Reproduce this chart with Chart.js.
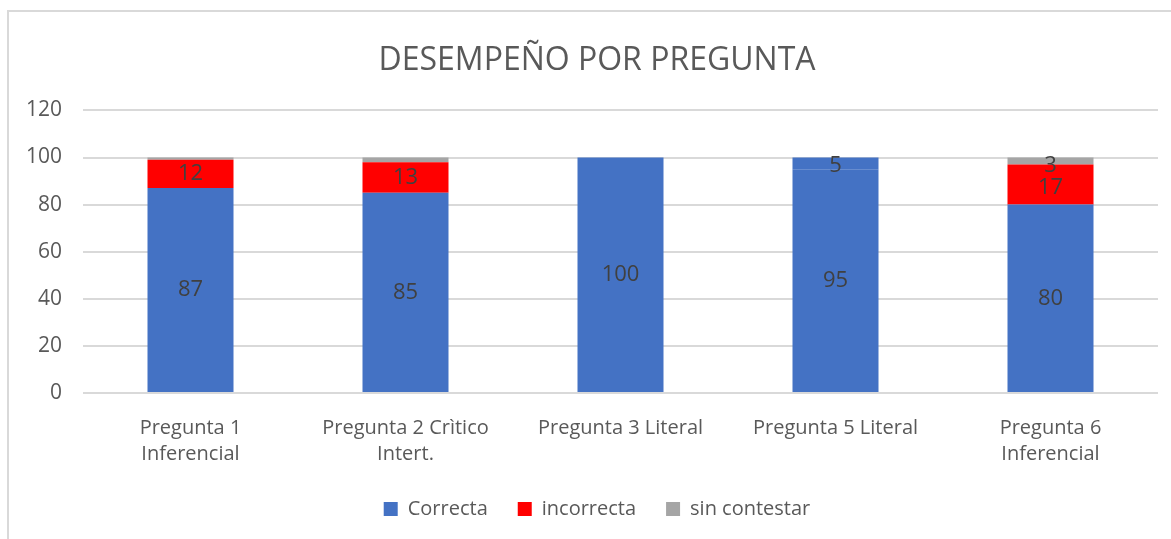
<!DOCTYPE html>
<html>
<head>
  <title>Desempeño por pregunta</title>
  <script src="https://cdn.jsdelivr.net/npm/chart.js@4.4.1/dist/chart.umd.min.js"></script>
  <style>
    body {
      margin: 0;
      background-color: #ffffff;
      font-family: "Open Sans", sans-serif;
    }
    .frame {
      position: absolute;
      left: 7px;
      top: 10px;
      width: 1200px;
      height: 600px;
      border: 2px solid #d9d9d9;
    }
    .wrap {
      position: absolute;
      left: 0;
      top: 0;
      width: 1171px;
      height: 539px;
    }
  </style>
</head>
<body>
  <div class="frame"></div>
  <div class="wrap">
    <canvas id="chart" width="1171" height="539"></canvas>
  </div>

  <script>
    const categories = [
      ['Pregunta 1', 'Inferencial'],
      ['Pregunta 2 Crìtico', 'Intert.'],
      'Pregunta 3 Literal',
      'Pregunta 5 Literal',
      ['Pregunta 6', 'Inferencial']
    ];
    const correcta = [87, 85, 100, 95, 80];
    const incorrecta = [12, 13, 0, 5, 17];
    const sinContestar = [1, 2, 0, 0, 3];
    const yTicks = [0, 20, 40, 60, 80, 100, 120];

    const BLUE = '#4472c4';
    const RED = '#ff0000';
    const GRAY = '#a5a5a5';
    const TEXT = '#595959';

    // labels drawn at the middle of each segment, pushed down if they would overlap
    const segmentLabels = {
      id: 'segmentLabels',
      afterLayout(chart) {
        // title and legend sit centred on the whole frame, which runs past the right edge
        const shift = 18;
        chart.titleBlock.left += shift;
        chart.titleBlock.right += shift;
        chart.legend.left += shift;
        chart.legend.right += shift;
      },
      afterDatasetsDraw(chart) {
        const ctx = chart.ctx;
        const n = chart.data.labels.length;
        ctx.save();
        ctx.font = '22px "Open Sans"';
        ctx.fillStyle = '#404040';
        ctx.textAlign = 'center';
        ctx.textBaseline = 'middle';
        const h = 22;
        for (let i = 0; i < n; i++) {
          let prevBottom = null;
          for (let d = chart.data.datasets.length - 1; d >= 0; d--) {
            const v = chart.data.datasets[d].data[i];
            const bar = chart.getDatasetMeta(d).data[i];
            if (prevBottom === null && v > 0) prevBottom = bar.y - 3;
            if (v < 3) continue;
            let cy = (bar.y + bar.base) / 2;
            if (cy - h / 2 < prevBottom) cy = prevBottom + h / 2;
            ctx.fillText(String(v), bar.x, cy);
            prevBottom = cy + h / 2;
          }
        }
        ctx.restore();
      }
    };

    new Chart(document.getElementById('chart'), {
      type: 'bar',
      data: {
        labels: categories,
        datasets: [{
          label: 'Correcta',
          data: correcta,
          backgroundColor: BLUE,
          barPercentage: 0.4,
          categoryPercentage: 1
        }, {
          label: 'incorrecta',
          data: incorrecta,
          // the 5 of Pregunta 5 is painted blue in the original
          backgroundColor: (c) => c.dataIndex === 3 ? BLUE : RED,
          barPercentage: 0.4,
          categoryPercentage: 1
        }, {
          label: 'sin contestar',
          data: sinContestar,
          backgroundColor: GRAY,
          barPercentage: 0.4,
          categoryPercentage: 1
        }]
      },
      options: {
        responsive: false,
        animation: false,
        layout: {
          padding: { left: 0, right: 13, top: 0, bottom: 10 }
        },
        plugins: {
          title: {
            display: true,
            text: 'DESEMPEÑO POR PREGUNTA',
            color: TEXT,
            font: { family: 'Open Sans', size: 32, weight: 'normal' },
            padding: { top: 42, bottom: 30 }
          },
          legend: {
            position: 'bottom',
            labels: {
              color: TEXT,
              font: { family: 'Open Sans', size: 20 },
              boxWidth: 14,
              boxHeight: 14,
              padding: 30
            }
          },
          tooltip: { enabled: false }
        },
        scales: {
          x: {
            stacked: true,
            grid: { display: false, drawTicks: false },
            border: { display: false },
            ticks: {
              color: TEXT,
              font: { family: 'Open Sans', size: 20, lineHeight: 1.3 },
              padding: 22,
              maxRotation: 0,
              autoSkip: false
            },
            afterFit: (s) => { s.height = 76; }
          },
          y: {
            stacked: true,
            min: 0,
            max: 120,
            afterBuildTicks: (s) => { s.ticks = yTicks.map((v) => ({ value: v })); },
            grid: { color: '#d9d9d9', lineWidth: 2, drawTicks: false },
            border: { display: false },
            ticks: {
              color: TEXT,
              font: { family: 'Open Sans', size: 21 },
              padding: 21
            },
            afterFit: (s) => { s.width = 83; }
          }
        }
      },
      plugins: [segmentLabels]
    });
  </script>
</body>
</html>
